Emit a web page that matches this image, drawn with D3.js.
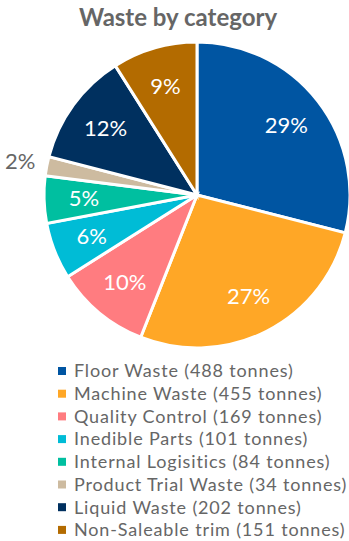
<!DOCTYPE html>
<html>
<head>
<meta charset="utf-8">
<script src="https://cdn.jsdelivr.net/npm/d3@7"></script>
<style>
  body { margin: 0; background: #fff; }
  svg { font-family: Lato, "Open Sans", sans-serif; }
</style>
</head>
<body>
<svg id="chart"></svg>
<script>
const width = 349;
const height = 541;

// data
const categories = ["Floor Waste", "Machine Waste", "Quality Control", "Inedible Parts",
  "Internal Logisitics", "Product Trial Waste", "Liquid Waste", "Non-Saleable trim"];
const tonnes = [488, 455, 169, 101, 84, 34, 202, 151];
const colors = ["#0055A2", "#FFA726", "#FF7C80", "#00BCD6", "#00BFA0", "#CDBBA0", "#00305F", "#B36B00"];

const data = categories.map((c, i) => ({ name: c, value: tonnes[i], color: colors[i] }));
const total = d3.sum(tonnes);

let svg = d3.select("#chart")
  .attr("width", width)
  .attr("height", height);

// title
svg.append("text")
  .attr("x", 178)
  .attr("y", 26)
  .attr("text-anchor", "middle")
  .attr("font-size", 24)
  .attr("font-weight", "bold")
  .attr("fill", "#666")
  .text("Waste by category");

const cx = 197, cy = 195, R = 153;

let pie = d3.pie().sort(null).value(d => d.value);
let arc = d3.arc().innerRadius(0).outerRadius(R);
let labelArc = d3.arc().innerRadius(R * 0.74).outerRadius(R * 0.74);
let outerArc = d3.arc().innerRadius(R + 27).outerRadius(R + 27);

let g = svg.append("g").attr("transform", `translate(${cx},${cy})`);
let arcs = pie(data);

g.selectAll("path")
  .data(arcs)
  .join("path")
  .attr("d", arc)
  .attr("fill", d => d.data.color)
  .attr("stroke", "#fff")
  .attr("stroke-width", 3);

// percentage labels; tiny slices get the label outside
g.selectAll("text.pct")
  .data(arcs)
  .join("text")
  .attr("class", "pct")
  .attr("transform", d => {
    let p = (d.data.value / total < 0.03 ? outerArc : labelArc).centroid(d);
    return `translate(${p})`;
  })
  .attr("text-anchor", "middle")
  .attr("dy", "0.35em")
  .attr("font-size", 22)
  .attr("fill", d => d.data.value / total < 0.03 ? "#666" : "#fff")
  .text(d => Math.round(d.data.value / total * 100) + "%");

// legend
let legend = svg.append("g").attr("transform", "translate(58,371)");
let rows = legend.selectAll("g")
  .data(data)
  .join("g")
  .attr("transform", (d, i) => `translate(0,${i * 22.7})`);

rows.append("rect")
  .attr("x", 0)
  .attr("y", -4)
  .attr("width", 8)
  .attr("height", 8)
  .attr("fill", d => d.color);

rows.append("text")
  .attr("x", 16)
  .attr("dy", "0.35em")
  .attr("font-size", 18)
  .attr("letter-spacing", 0.85)
  .attr("fill", "#666")
  .text(d => `${d.name} (${d.value} tonnes)`);
</script>
</body>
</html>
